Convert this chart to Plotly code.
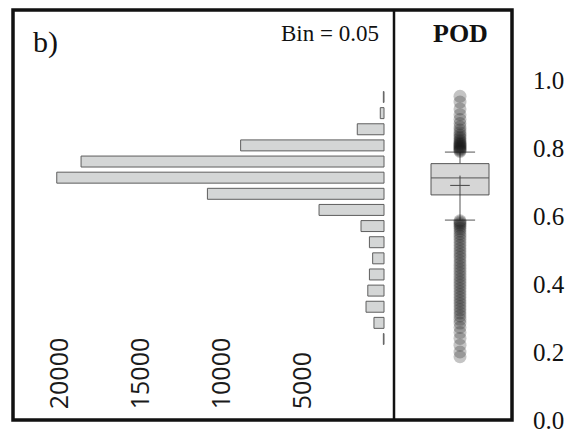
import plotly.graph_objects as go

W, H = 580, 435

# ---- data ----
bin_centers = [0.20, 0.25, 0.30, 0.35, 0.40, 0.45, 0.50, 0.55,
               0.60, 0.65, 0.70, 0.75, 0.80, 0.85, 0.90, 0.95]
bin_counts = [40, 620, 1110, 1000, 900, 700, 900, 1420,
              4010, 10900, 20200, 18700, 8850, 1650, 230, 40]
count_ticks = [5000, 10000, 15000, 20000]
count_tick_labels = ["5000", "10000", "15000", "20000"]

pod_q1 = 0.662
pod_median = 0.712
pod_q3 = 0.754
pod_lower_whisker = 0.588
pod_upper_whisker = 0.788
pod_mean = 0.690

pod_outliers_high = [0.790, 0.793, 0.796, 0.799, 0.802, 0.805, 0.808, 0.811,
                     0.814, 0.818, 0.822, 0.827, 0.832, 0.838, 0.845,
                     0.853, 0.862, 0.872, 0.884, 0.898, 0.915, 0.935, 0.952]
pod_outliers_low = [0.586, 0.582, 0.578, 0.574, 0.569, 0.563, 0.556, 0.548,
                    0.540, 0.531, 0.522, 0.513, 0.504, 0.495, 0.486, 0.477,
                    0.468, 0.459, 0.450, 0.441, 0.432, 0.423, 0.414, 0.405,
                    0.396, 0.387, 0.378, 0.369, 0.360, 0.351, 0.342, 0.333,
                    0.324, 0.315, 0.306, 0.296, 0.285, 0.272, 0.257, 0.240,
                    0.220, 0.200, 0.186]
pod_ticks = [0.0, 0.2, 0.4, 0.6, 0.8, 1.0]
pod_tick_labels = ["0.0", "0.2", "0.4", "0.6", "0.8", "1.0"]

SERIF = "Liberation Serif, Times New Roman, Times, serif"


def px(x):
    return x / W


def py(y):
    return 1 - y / H


fig = go.Figure()

fig.add_trace(go.Bar(
    x=bin_counts, y=bin_centers, orientation="h", width=0.034,
    marker=dict(color="#d4d6d6", line=dict(color="#5e5e5e", width=1)),
    xaxis="x", yaxis="y", showlegend=False,
))

pod_out = pod_outliers_high + pod_outliers_low
fig.add_trace(go.Scatter(
    x=[0] * len(pod_out), y=pod_out, mode="markers",
    marker=dict(size=13, color="rgba(20,20,20,0.25)", line=dict(width=0)),
    xaxis="x2", yaxis="y2", showlegend=False, hoverinfo="y",
))

fig.add_trace(go.Box(
    x=[0], q1=[pod_q1], median=[pod_median], q3=[pod_q3],
    lowerfence=[pod_lower_whisker], upperfence=[pod_upper_whisker],
    width=1.0, whiskerwidth=0.52, boxpoints=False,
    fillcolor="#d6d6d6", line=dict(color="#555555", width=1),
    xaxis="x2", yaxis="y2", showlegend=False,
))

fig.add_trace(go.Scatter(
    x=[0], y=[pod_mean], mode="markers",
    marker=dict(symbol="cross-thin", size=14,
                line=dict(color="#444444", width=1)),
    xaxis="x2", yaxis="y2", showlegend=False,
))

# axes geometry (pixel based)
left_x0, div_x, right_x1 = 13, 394, 512
top_y, bot_y = 10, 420
zero_px, px_per_1000 = 384, 16.2
hist_top_val_px, px_per_unit_hist = 97, 322.67
pod_zero_px, px_per_unit_pod = 420, 340.0
box_center_px, box_w_px = 460, 58

ydom = [py(bot_y), py(top_y)]

fig.update_layout(
    width=W, height=H,
    margin=dict(l=0, r=0, t=0, b=0, autoexpand=False),
    paper_bgcolor="white", plot_bgcolor="white",
    xaxis=dict(
        domain=[px(left_x0), px(div_x)],
        range=[(zero_px - left_x0) / px_per_1000 * 1000,
               -(div_x - zero_px) / px_per_1000 * 1000],
        tickvals=count_ticks, ticktext=count_tick_labels,
        tickangle=-90, ticklabelposition="inside", ticks="",
        ticklabelstandoff=-1, automargin=False,
        tickfont=dict(family="Open Sans", size=25, color="#1a1a1a"),
        showgrid=False, zeroline=False, showline=False, anchor="y",
    ),
    yaxis=dict(
        domain=ydom,
        range=[0.95 - (bot_y - hist_top_val_px) / px_per_unit_hist,
               0.95 + (hist_top_val_px - top_y) / px_per_unit_hist],
        visible=False, anchor="x", automargin=False,
    ),
    xaxis2=dict(
        domain=[px(div_x), px(right_x1)],
        range=[-(box_center_px - div_x) / box_w_px,
               (right_x1 - box_center_px) / box_w_px],
        visible=False, anchor="y2", automargin=False,
    ),
    yaxis2=dict(
        domain=ydom,
        range=[0, (pod_zero_px - top_y) / px_per_unit_pod],
        side="right", anchor="x2", automargin=False,
        tickvals=pod_ticks, ticktext=pod_tick_labels, ticks="",
        ticklabelstandoff=20,
        tickfont=dict(family=SERIF, size=25, color="#111111"),
        showgrid=False, zeroline=False, showline=False,
    ),
    shapes=[
        dict(type="rect", xref="paper", yref="paper",
             x0=px(left_x0), x1=px(right_x1), y0=py(bot_y), y1=py(top_y),
             line=dict(color="#111111", width=3.5)),
        dict(type="line", xref="paper", yref="paper",
             x0=px(div_x), x1=px(div_x), y0=py(bot_y), y1=py(top_y),
             line=dict(color="#111111", width=2.5)),
    ],
    annotations=[
        dict(text="b)", xref="paper", yref="paper", x=px(31), y=py(42),
             xanchor="left", yanchor="middle", showarrow=False,
             font=dict(family=SERIF, size=30, color="#111111")),
        dict(text="Bin = 0.05", xref="paper", yref="paper", x=px(381), y=py(33),
             xanchor="right", yanchor="middle", showarrow=False,
             font=dict(family=SERIF, size=23, color="#111111")),
        dict(text="<b>POD</b>", xref="paper", yref="paper", x=px(460), y=py(33),
             xanchor="center", yanchor="middle", showarrow=False,
             font=dict(family=SERIF, size=26, color="#111111")),
    ],
)

fig.write_html("out.html")
